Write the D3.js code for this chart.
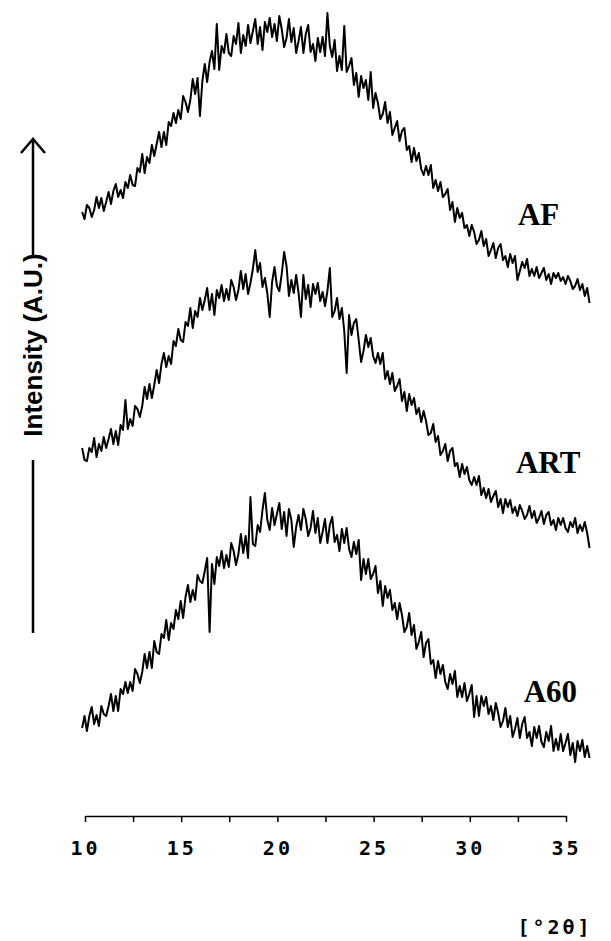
<!DOCTYPE html>
<html>
<head>
<meta charset="utf-8">
<script src="https://cdn.jsdelivr.net/npm/d3@7"></script>
<style>
  html, body { margin: 0; padding: 0; background: #fff; }
  svg { display: block; }
</style>
</head>
<body>
<svg id="chart" width="611" height="941"></svg>
<script>
// Scan grid: 2θ start and step (degrees)
const scanStart = 9.85;
const scanStep = 0.125;

// Axis ticks (2θ, degrees); labels only every 5°
const tickValues = [10, 12.5, 15, 17.5, 20, 22.5, 25, 27.5, 30, 32.5, 35];
const tickLabels = ["10", "", "15", "", "20", "", "25", "", "30", "", "35"];

const seriesNames = ["AF", "ART", "A60"];

// Intensities (A.U.), patterns stacked vertically
const afValues = [
  604, 597, 611, 608, 599, 606, 619, 608, 618, 605,
  614, 624, 612, 625, 632, 619, 626, 618, 634, 628,
  641, 631, 630, 648, 644, 662, 643, 659, 653, 671,
  660, 672, 684, 669, 684, 671, 694, 690, 703, 693,
  706, 697, 720, 714, 704, 716, 737, 722, 738, 700,
  735, 752, 734, 754, 765, 747, 792, 746, 770, 763,
  782, 763, 760, 780, 772, 793, 763, 781, 770, 791,
  773, 785, 797, 772, 789, 766, 794, 784, 798, 779,
  792, 775, 800, 787, 769, 778, 797, 774, 788, 763,
  775, 789, 763, 782, 791, 764, 772, 755, 778, 764,
  779, 760, 803, 770, 759, 776, 745, 760, 746, 790,
  744, 750, 758, 731, 743, 719, 740, 728, 736, 716,
  744, 708, 723, 713, 697, 702, 714, 693, 704, 681,
  688, 695, 675, 685, 688, 666, 670, 654, 668, 655,
  663, 647, 641, 650, 641, 651, 628, 636, 625, 634,
  619, 622, 627, 606, 614, 594, 608, 598, 603, 588,
  591, 580, 591, 584, 572, 576, 585, 570, 577, 560,
  566, 573, 558, 568, 572, 556, 560, 549, 562, 553,
  560, 536, 545, 554, 548, 557, 540, 547, 540, 549,
  538, 543, 548, 536, 542, 532, 543, 538, 543, 535,
  539, 532, 540, 535, 527, 530, 537, 526, 532, 520,
  528, 513
];

const artValues = [
  368, 356, 355, 368, 364, 378, 359, 372, 365, 379,
  368, 377, 387, 372, 385, 371, 391, 386, 416, 387,
  397, 390, 410, 407, 399, 410, 429, 417, 432, 418,
  431, 446, 433, 452, 463, 449, 460, 452, 475, 470,
  487, 476, 474, 494, 490, 508, 488, 505, 499, 518,
  506, 516, 528, 506, 522, 501, 526, 518, 531, 515,
  527, 516, 536, 529, 516, 526, 545, 527, 542, 522,
  533, 547, 566, 544, 553, 529, 538, 523, 499, 534,
  549, 530, 525, 542, 564, 550, 520, 536, 523, 541,
  523, 499, 541, 517, 531, 509, 532, 522, 533, 515,
  524, 510, 525, 548, 499, 505, 518, 497, 508, 485,
  443, 501, 481, 493, 497, 476, 454, 465, 481, 469,
  478, 460, 453, 463, 452, 463, 437, 445, 432, 443,
  425, 430, 437, 415, 424, 405, 422, 411, 418, 402,
  408, 394, 405, 395, 381, 383, 392, 374, 380, 361,
  365, 372, 355, 365, 368, 350, 353, 339, 352, 342,
  349, 336, 331, 339, 331, 340, 321, 328, 318, 327,
  314, 320, 325, 309, 317, 303, 317, 309, 316, 303,
  309, 300, 311, 305, 297, 301, 310, 298, 305, 293,
  298, 305, 292, 301, 304, 291, 296, 286, 298, 291,
  298, 288, 284, 294, 289, 298, 283, 291, 285, 294,
  283, 268
];

const a60Values = [
  88, 100, 85, 100, 109, 92, 101, 90, 110, 102,
  100, 110, 122, 105, 120, 105, 127, 122, 134, 123,
  134, 125, 147, 142, 133, 144, 162, 148, 164, 148,
  175, 164, 162, 182, 178, 196, 176, 193, 187, 206,
  197, 215, 198, 219, 231, 214, 226, 216, 241, 235,
  233, 245, 258, 184, 252, 232, 259, 250, 265, 248,
  261, 249, 273, 265, 251, 262, 282, 263, 280, 258,
  319, 272, 270, 291, 284, 306, 323, 296, 286, 308,
  291, 302, 313, 287, 304, 280, 307, 296, 269, 289,
  301, 286, 307, 297, 280, 288, 305, 283, 298, 273,
  284, 297, 273, 291, 299, 274, 281, 265, 287, 273,
  288, 267, 259, 274, 262, 276, 236, 257, 242, 257,
  237, 242, 250, 223, 235, 210, 230, 218, 226, 206,
  213, 197, 213, 201, 184, 189, 203, 181, 191, 167,
  174, 184, 159, 173, 177, 152, 156, 138, 155, 142,
  151, 134, 127, 142, 132, 145, 119, 130, 119, 133,
  115, 122, 131, 99, 120, 100, 120, 110, 119, 102,
  110, 96, 113, 103, 89, 95, 108, 89, 100, 79,
  87, 98, 78, 92, 99, 78, 84, 70, 89, 78,
  90, 74, 69, 84, 75, 90, 65, 77, 66, 82,
  65, 73, 82, 61, 73, 54, 75, 65, 76, 59,
  70, 58
];

// Where each pattern's name sits (2θ of its left edge, intensity of its baseline)
const labelAt = [
  { x: 32.5, y: 591 },
  { x: 32.4, y: 343 },
  { x: 32.8, y: 114 }
];

const series = [afValues, artValues, a60Values].map((vals, k) => ({
  name: seriesNames[k],
  points: vals.map((v, i) => ({ t: scanStart + i * scanStep, v }))
}));

const svg = d3.select("#chart");

const x = d3.scaleLinear().domain([10, 35]).range([85, 566]);
const y = d3.scaleLinear().domain([0, 800]).range([816, 16]);

// Diffraction patterns
const line = d3.line().x(d => x(d.t)).y(d => y(d.v));
svg.append("g")
  .selectAll("path")
  .data(series)
  .join("path")
  .attr("d", d => line(d.points))
  .attr("fill", "none")
  .attr("stroke", "#000")
  .attr("stroke-width", 2)
  .attr("stroke-linejoin", "round");

// Pattern names
svg.append("g")
  .selectAll("text")
  .data(series)
  .join("text")
  .attr("x", (d, k) => x(labelAt[k].x))
  .attr("y", (d, k) => y(labelAt[k].y))
  .attr("font-family", "'Liberation Serif', 'Times New Roman', serif")
  .attr("font-weight", "bold")
  .attr("font-size", 31)
  .attr("fill", "#000")
  .text(d => d.name);

// 2θ axis
const axis = d3.axisBottom(x)
  .tickValues(tickValues)
  .tickFormat((d, i) => tickLabels[i])
  .tickSize(6)
  .tickSizeOuter(0)
  .tickPadding(19);

const gx = svg.append("g")
  .attr("transform", "translate(0,816)")
  .call(axis);
gx.select(".domain").attr("stroke-width", 1.5);
gx.selectAll(".tick line").attr("stroke-width", 1.5);
gx.selectAll(".tick text")
  .attr("font-family", "'DejaVu Sans Mono', monospace")
  .attr("font-weight", "bold")
  .attr("font-size", 20)
  .attr("letter-spacing", 3)
  .attr("fill", "#000");

// Unit label
svg.append("text")
  .attr("x", 555)
  .attr("y", 934)
  .attr("text-anchor", "middle")
  .attr("font-family", "'DejaVu Sans Mono', monospace")
  .attr("font-weight", "bold")
  .attr("font-size", 20)
  .attr("letter-spacing", 3)
  .text("[°2θ]");

// Intensity label with arrow
const yLab = svg.append("g");
yLab.append("text")
  .attr("transform", "translate(42,345) rotate(-90)")
  .attr("text-anchor", "middle")
  .attr("font-family", "'Liberation Sans', Arial, sans-serif")
  .attr("font-weight", "bold")
  .attr("font-size", 26)
  .text("Intensity (A.U.)");
yLab.append("line")
  .attr("x1", 33).attr("x2", 33).attr("y1", 140).attr("y2", 255)
  .attr("stroke", "#000").attr("stroke-width", 2.5);
yLab.append("path")
  .attr("d", "M21,153 L33,139 L45,153")
  .attr("fill", "none").attr("stroke", "#000").attr("stroke-width", 2.5)
  .attr("stroke-linejoin", "miter");
yLab.append("line")
  .attr("x1", 33).attr("x2", 33).attr("y1", 460).attr("y2", 633)
  .attr("stroke", "#000").attr("stroke-width", 2.5);
</script>
</body>
</html>
